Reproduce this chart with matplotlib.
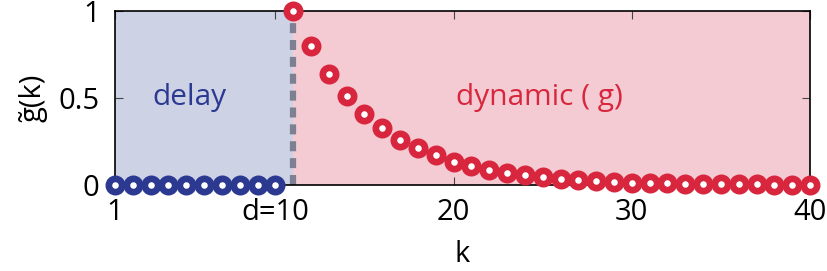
import matplotlib
matplotlib.use('Agg')
import matplotlib.pyplot as plt

# delay part: k = 1..10, all zero
k_delay = list(range(1, 11))
g_delay = [0, 0, 0, 0, 0, 0, 0, 0, 0, 0]

# dynamic part: k = 11..40
k_dyn = list(range(11, 41))
g_dyn = [1.0, 0.80, 0.64, 0.51, 0.41, 0.33, 0.26, 0.21, 0.17, 0.134,
         0.107, 0.086, 0.069, 0.055, 0.044, 0.035, 0.028, 0.023, 0.018, 0.014,
         0.012, 0.009, 0.007, 0.006, 0.005, 0.004, 0.003, 0.002, 0.002, 0.001]

xticks = [1, 10, 20, 30, 40]
xticklabels = ['1', 'd=10', '20', '30', '40']
yticks = [0, 0.5, 1]
yticklabels = ['0', '0.5', '1']

plt.rcParams['font.family'] = ['Open Sans', 'DejaVu Sans']

blue = '#2b3990'
red = '#d7263d'

fig = plt.figure(figsize=(8.27, 2.71), dpi=100)
ax = fig.add_axes([115 / 827, 1 - 185 / 271, 695 / 827, 174 / 271])

ax.axvspan(1, 11, color='#cdd2e5', zorder=0, lw=0)
ax.axvspan(11, 40, color='#f5cbd3', zorder=0, lw=0)
ax.axvline(11, color='#7d8093', lw=4.5, ls=(0, (1.6, 1.1)), zorder=2)

ax.plot(k_delay, g_delay, 'o', ms=9.6, mfc='white', mec=blue, mew=4.8,
        clip_on=False, zorder=3)
ax.plot(k_dyn, g_dyn, 'o', ms=9.6, mfc='white', mec=red, mew=4.8,
        clip_on=False, zorder=3)

ax.text(5.2, 0.5, 'delay', color=blue, fontsize=21.5, ha='center', va='center')
ax.text(24.8, 0.5, 'dynamic ( g)', color=red, fontsize=21.5, ha='center', va='center')

ax.set_xlim(1, 40)
ax.set_ylim(0, 1)
ax.set_xticks(xticks)
ax.set_xticklabels(xticklabels)
ax.set_yticks(yticks)
ax.set_yticklabels(yticklabels)
ax.tick_params(direction='in', top=True, right=True, labelsize=21,
               length=6, width=0.8, color='#444444')
ax.tick_params(axis='x', pad=9)
ax.tick_params(axis='y', pad=11)
for s in ax.spines.values():
    s.set_linewidth(1.2)

ax.set_xlabel('k', fontsize=21, labelpad=10)
ax.set_ylabel('g\u0303(k)', fontsize=21, labelpad=8)

fig.savefig('out.png', dpi=100)
